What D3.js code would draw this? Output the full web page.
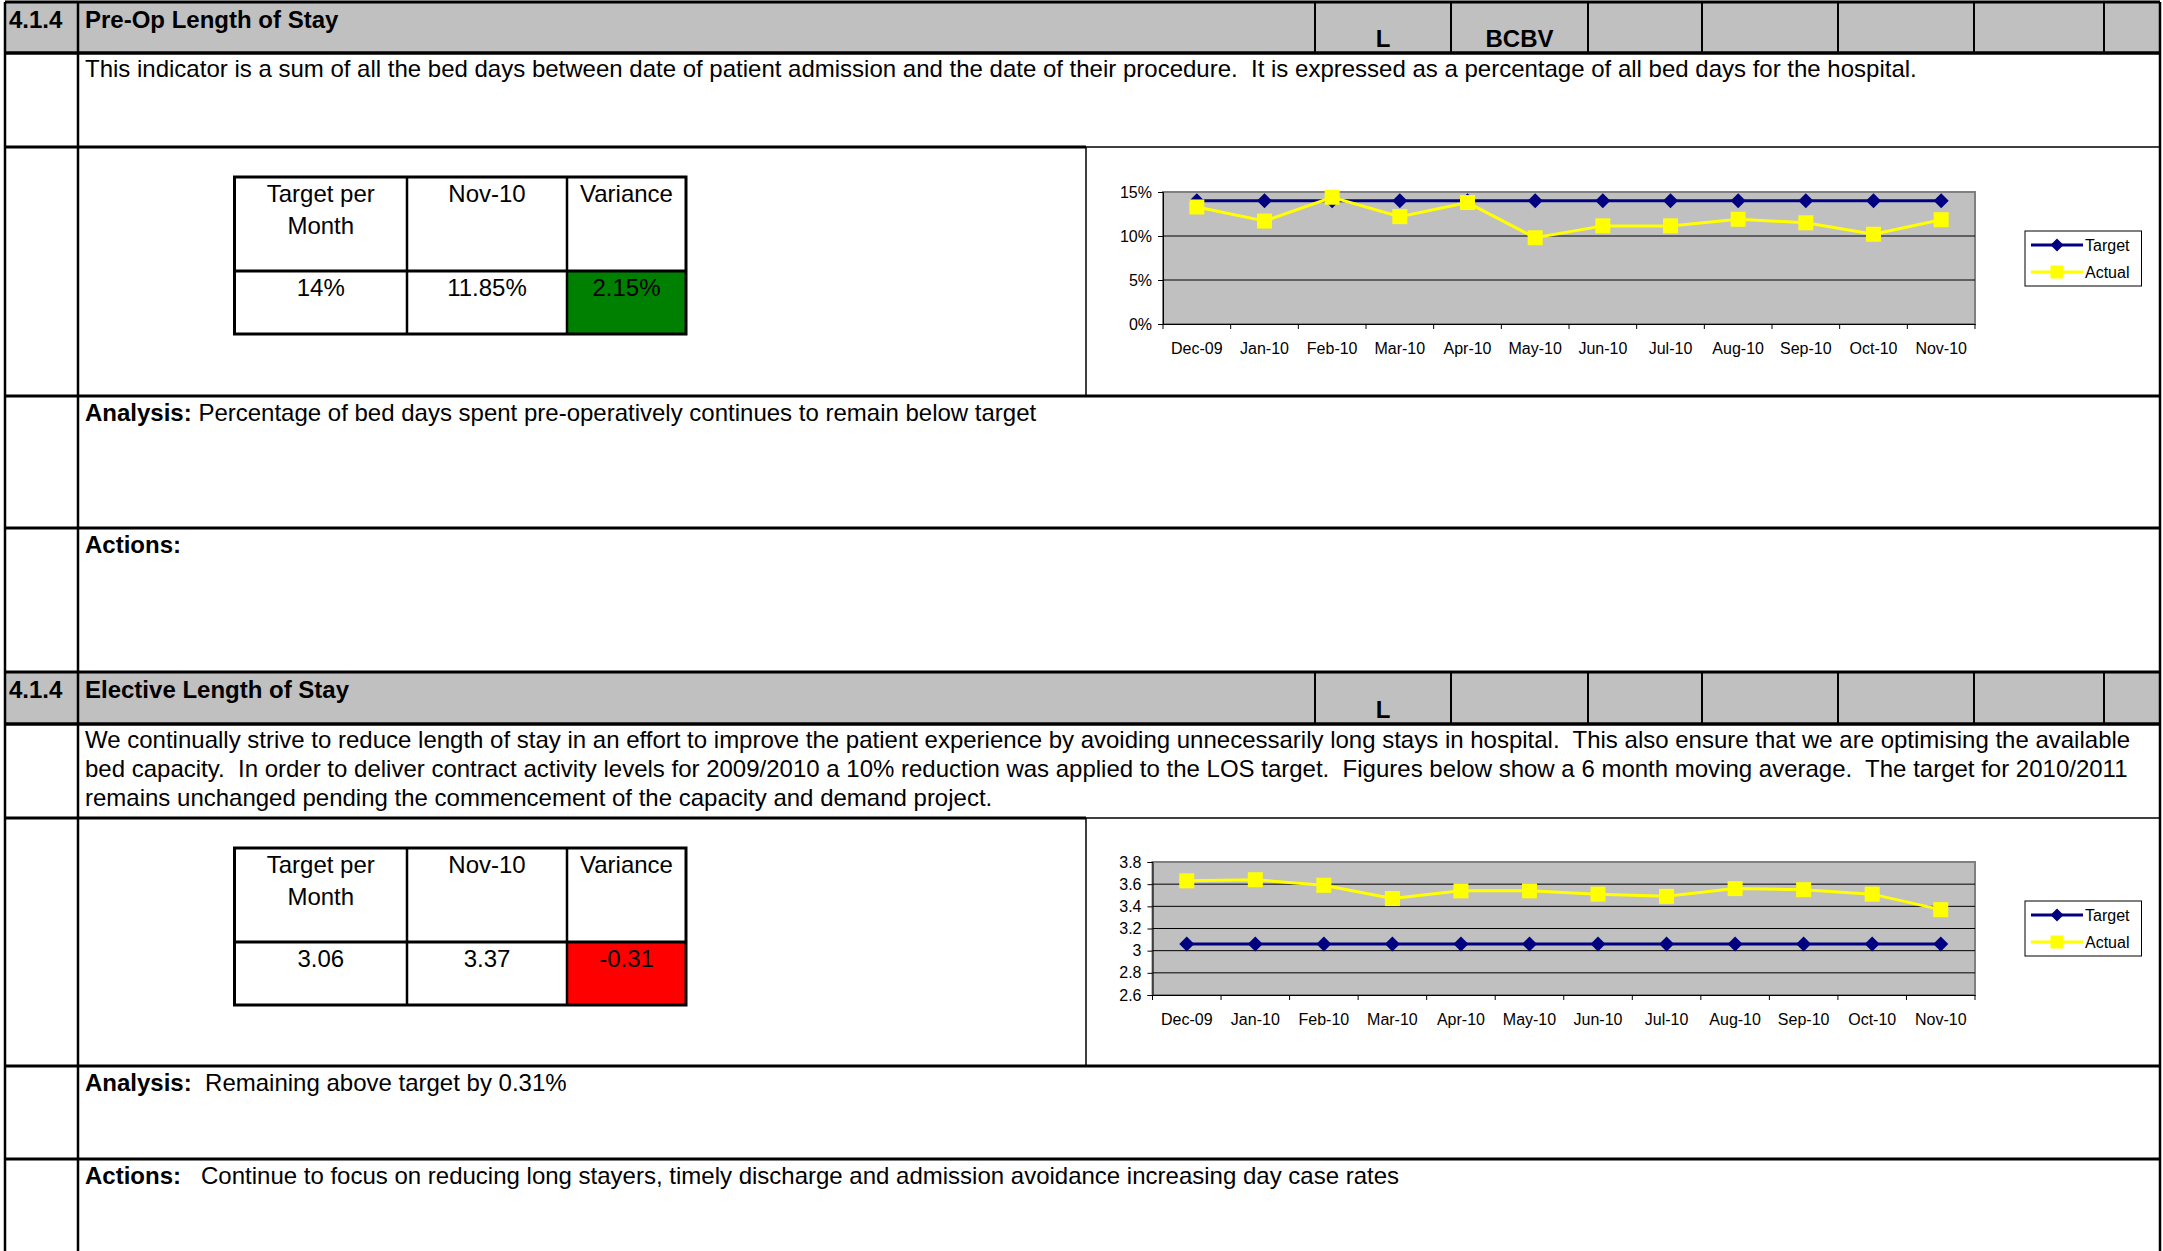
<!DOCTYPE html>
<html>
<head>
<meta charset="utf-8">
<script src="https://cdn.jsdelivr.net/npm/d3@7"></script>
<style>
  body { margin: 0; background: #fff; }
  svg text { font-family: "Liberation Sans", Arial, sans-serif; white-space: pre; }
</style>
</head>
<body>
<svg id="page" width="2163" height="1251"></svg>
<script>
// ---- data ----
const months = ['Dec-09', 'Jan-10', 'Feb-10', 'Mar-10', 'Apr-10', 'May-10',
  'Jun-10', 'Jul-10', 'Aug-10', 'Sep-10', 'Oct-10', 'Nov-10']

const preOpTarget = [14, 14, 14, 14, 14, 14, 14, 14, 14, 14, 14, 14]
const preOpActual = [13.3, 11.7, 14.4, 12.2, 13.8, 9.8, 11.15, 11.15, 11.9, 11.5, 10.2, 11.85]
const preOpTicks = [0, 5, 10, 15]

const losTarget = [3.06, 3.06, 3.06, 3.06, 3.06, 3.06, 3.06, 3.06, 3.06, 3.06, 3.06, 3.06]
const losActual = [3.63, 3.64, 3.59, 3.47, 3.54, 3.54, 3.51, 3.49, 3.56, 3.55, 3.51, 3.37]
const losTicks = [2.6, 2.8, 3, 3.2, 3.4, 3.6, 3.8]

const tableHeads = [['Target per', 'Month'], ['Nov-10'], ['Variance']]
const preOpSummary = ['14%', '11.85%', '2.15%']
const losSummary = ['3.06', '3.37', '-0.31']

const preOpText = ['This indicator is a sum of all the bed days between date of patient admission and the date of their procedure.  It is expressed as a percentage of all bed days for the hospital.']
const losText = [
  'We continually strive to reduce length of stay in an effort to improve the patient experience by avoiding unnecessarily long stays in hospital.  This also ensure that we are optimising the available',
  'bed capacity.  In order to deliver contract activity levels for 2009/2010 a 10% reduction was applied to the LOS target.  Figures below show a 6 month moving average.  The target for 2010/2011',
  'remains unchanged pending the commencement of the capacity and demand project.'
]

const svg = d3.select('#page')
const FS = 24 // sheet font size
const CFS = 16 // chart font size

// ---- sheet grid ----
const xLeft = 5
const xCol = 78
const xRight = 2160
const xChart = 1086
const headDividers = [1315, 1451, 1588, 1702, 1838, 1974, 2104]

function line (x1, y1, x2, y2, w, c) {
  svg.append('line')
    .attr('x1', x1).attr('y1', y1).attr('x2', x2).attr('y2', y2)
    .attr('stroke', c || '#000').attr('stroke-width', w)
}

function txt (x, y, s, opts) {
  opts = opts || {}
  return svg.append('text')
    .attr('x', x).attr('y', y)
    .attr('text-anchor', opts.anchor || 'start')
    .attr('font-size', opts.size || FS)
    .attr('font-weight', opts.bold ? 'bold' : 'normal')
    .attr('fill', '#000')
    .text(s)
}

function drawSection (s) {
  // header band
  svg.append('rect').attr('x', xLeft).attr('y', s.top)
    .attr('width', xRight - xLeft).attr('height', s.head - s.top)
    .attr('fill', '#c0c0c0')
  headDividers.forEach(x => line(x, s.top, x, s.head, 2))
  txt(9, s.top + 26, '4.1.4', { bold: true })
  txt(85, s.top + 26, s.title, { bold: true })
  s.codes.forEach((c, i) => {
    if (c) txt((headDividers[i] + headDividers[i + 1]) / 2, s.head - 6, c, { bold: true, anchor: 'middle' })
  })

  // description
  s.text.forEach((t, i) => txt(85, s.desc + 24 + i * 29, t))

  // summary table
  const tx = [234.5, 407, 567, 686]
  const ty = [s.chart + 30, s.chart + 124, s.chart + 187]
  svg.append('rect').attr('x', tx[2]).attr('y', ty[1])
    .attr('width', tx[3] - tx[2]).attr('height', ty[2] - ty[1])
    .attr('fill', s.varColor)
  tableHeads.forEach((h, i) => {
    const cx = (tx[i] + tx[i + 1]) / 2
    h.forEach((l, j) => txt(cx, ty[0] + 25 + j * 32, l, { anchor: 'middle' }))
    txt(cx, ty[1] + 25, s.summary[i], { anchor: 'middle' })
  })
  svg.append('rect').attr('x', tx[0]).attr('y', ty[0])
    .attr('width', tx[3] - tx[0]).attr('height', ty[2] - ty[0])
    .attr('fill', 'none').attr('stroke', '#000').attr('stroke-width', 3)
  line(tx[0], ty[1], tx[3], ty[1], 3)
  line(tx[1], ty[0], tx[1], ty[2], 2.5)
  line(tx[2], ty[0], tx[2], ty[2], 2.5)

  // analysis / actions
  const an = txt(85, s.analysis + 25, 'Analysis:', { bold: true })
  an.append('tspan').attr('font-weight', 'normal').text(s.analysisText)
  const ac = txt(85, s.actions + 25, 'Actions:', { bold: true })
  ac.append('tspan').attr('font-weight', 'normal').text(s.actionsText)

  // chart object
  svg.append('rect').attr('x', xChart).attr('y', s.chart)
    .attr('width', xRight - xChart).attr('height', s.analysis - s.chart)
    .attr('fill', 'none').attr('stroke', '#000').attr('stroke-width', 1.5)
  drawChart(s.plot)

  // grid lines
  ;[s.top, s.head, s.desc].forEach(y => line(xLeft, y, xRight, y, 3))
  line(xLeft, s.chart, xChart, s.chart, 3)
  ;[s.analysis, s.actions].forEach(y => line(xLeft, y, xRight, y, 3))
  line(xLeft, s.top, xLeft, s.end, 2.5)
  line(xCol, s.top, xCol, s.end, 2.5)
  line(xRight, s.top, xRight, s.end, 2.5)
}

function diamond (g, r) {
  return g.append('path').attr('d', `M0,${-r}L${r},0L0,${r}L${-r},0Z`)
}

function drawChart (p) {
  const g = svg.append('g')
  const x = d3.scaleBand().domain(months).range([p.x0, p.x1])
  const y = d3.scaleLinear().domain([p.ticks[0], p.ticks[p.ticks.length - 1]]).range([p.y1, p.y0])

  g.append('rect').attr('x', p.x0).attr('y', p.y0)
    .attr('width', p.x1 - p.x0).attr('height', p.y1 - p.y0)
    .attr('fill', '#c0c0c0').attr('stroke', '#808080').attr('stroke-width', 2)

  g.selectAll('.grid').data(p.ticks.slice(1, -1)).join('line')
    .attr('x1', p.x0).attr('x2', p.x1)
    .attr('y1', d => y(d)).attr('y2', d => y(d))
    .attr('stroke', '#000').attr('stroke-width', 1)

  const ya = g.append('g').attr('transform', `translate(${p.x0},0)`)
    .call(d3.axisLeft(y).tickValues(p.ticks).tickFormat(p.fmt).tickSize(5).tickPadding(6))
  const xa = g.append('g').attr('transform', `translate(0,${p.y1})`)
    .call(d3.axisBottom(x).tickSize(0).tickPadding(19))
  ;[ya, xa].forEach(a => {
    a.selectAll('text').attr('font-size', CFS).attr('fill', '#000')
      .attr('font-family', '"Liberation Sans", Arial, sans-serif')
    a.select('.domain').attr('stroke', '#000')
  })
  // category separators below the axis
  g.selectAll('.ctick').data(months.concat(['end'])).join('line')
    .attr('x1', (d, i) => p.x0 + i * x.bandwidth())
    .attr('x2', (d, i) => p.x0 + i * x.bandwidth())
    .attr('y1', p.y1).attr('y2', p.y1 + 5)
    .attr('stroke', '#000')

  const cx = d => x(d) + x.bandwidth() / 2
  const series = [
    { name: 'Target', values: p.target, color: '#000080', mark: 'diamond' },
    { name: 'Actual', values: p.actual, color: '#ffff00', mark: 'square' }
  ]
  const ln = d3.line().x((d, i) => cx(months[i])).y(d => y(d))

  series.forEach((s, k) => {
    g.append('path').attr('d', ln(s.values)).attr('fill', 'none')
      .attr('stroke', s.color).attr('stroke-width', 3)
    s.values.forEach((v, i) => {
      const m = s.mark === 'diamond'
        ? diamond(g, 7.5)
        : g.append('rect').attr('x', -7.5).attr('y', -7.5).attr('width', 15).attr('height', 15)
      m.attr('transform', `translate(${cx(months[i])},${y(v)})`).attr('fill', s.color)
    })

    // legend entry
    const ly = p.y0 + 53 + k * 27
    g.append('line').attr('x1', 2031).attr('x2', 2083).attr('y1', ly).attr('y2', ly)
      .attr('stroke', s.color).attr('stroke-width', 3)
    const lm = s.mark === 'diamond'
      ? diamond(g, 6.5)
      : g.append('rect').attr('x', -6.5).attr('y', -6.5).attr('width', 13).attr('height', 13)
    lm.attr('transform', `translate(2057,${ly})`).attr('fill', s.color)
    g.append('text').attr('x', 2085).attr('y', ly + 6).attr('font-size', CFS).text(s.name)
  })
  g.append('rect').attr('x', 2025).attr('y', p.y0 + 39)
    .attr('width', 116.5).attr('height', 55)
    .attr('fill', 'none').attr('stroke', '#000').attr('stroke-width', 1)
}

drawSection({
  top: 2, head: 53, desc: 53, chart: 147, analysis: 396, actions: 528, end: 672,
  title: 'Pre-Op Length of Stay',
  codes: ['L', 'BCBV', '', '', '', ''],
  text: preOpText,
  summary: preOpSummary,
  varColor: '#008000',
  analysisText: ' Percentage of bed days spent pre-operatively continues to remain below target',
  actionsText: '',
  plot: {
    x0: 1163, x1: 1975, y0: 192, y1: 324,
    ticks: preOpTicks, fmt: d => d + '%',
    target: preOpTarget, actual: preOpActual
  }
})

drawSection({
  top: 672, head: 724, desc: 724, chart: 818, analysis: 1066, actions: 1159, end: 1251,
  title: 'Elective Length of Stay',
  codes: ['L', '', '', '', '', ''],
  text: losText,
  summary: losSummary,
  varColor: '#ff0000',
  analysisText: '  Remaining above target by 0.31%',
  actionsText: '   Continue to focus on reducing long stayers, timely discharge and admission avoidance increasing day case rates',
  plot: {
    x0: 1152.5, x1: 1975, y0: 862, y1: 995,
    ticks: losTicks, fmt: d => String(+d.toFixed(1)),
    target: losTarget, actual: losActual
  }
})
</script>
</body>
</html>
